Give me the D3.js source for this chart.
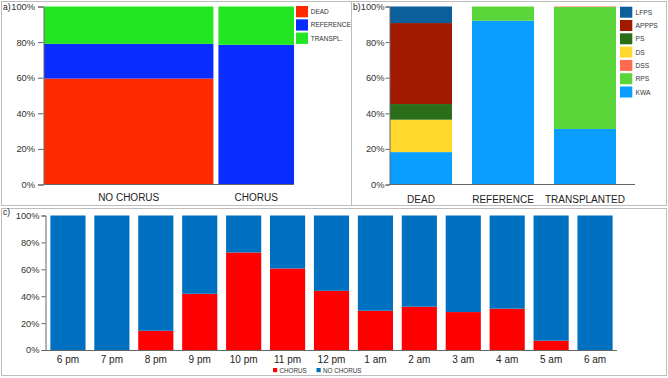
<!DOCTYPE html>
<html><head><meta charset="utf-8">
<script src="https://cdn.jsdelivr.net/npm/d3@7"></script>
<style>
html,body{margin:0;padding:0;background:#fff;}
svg{display:block;font-family:"Liberation Sans",Arial,Helvetica,sans-serif;}
</style></head>
<body>
<svg id="chart" width="668" height="378"></svg>
<script>
// ---------- DATA ----------
// Panel a
const aCategories = ["NO CHORUS", "CHORUS"];
const aWidthShare = [0.684, 0.316];
const aSeries = ["DEAD", "REFERENCE", "TRANSPL."];
const aDead = [59.5, 0];
const aReference = [19.5, 78.5];
const aTranspl = [21, 21.5];
const aColors = ["#ff2a00", "#0a2dff", "#21e621"];

// Panel b
const bCategories = ["DEAD", "REFERENCE", "TRANSPLANTED"];
const bSeries = ["KWA", "RPS", "DSS", "DS", "PS", "APPPS", "LFPS"];
const bKWA = [18.2, 92, 31.2];
const bRPS = [0, 8, 68.5];
const bDSS = [0, 0, 0.3];
const bDS = [18.2, 0, 0];
const bPS = [8.8, 0, 0];
const bAPPPS = [45.5, 0, 0];
const bLFPS = [9.3, 0, 0];
const bColors = ["#0a9fff", "#5ad63a", "#ff6a50", "#ffd92e", "#2a6e1a", "#a11a00", "#0b5f9a"];
const bLegendOrder = ["LFPS", "APPPS", "PS", "DS", "DSS", "RPS", "KWA"];

// Panel c
const cHours = ["6 pm", "7 pm", "8 pm", "9 pm", "10 pm", "11 pm", "12 pm", "1 am", "2 am", "3 am", "4 am", "5 am", "6 am"];
const cChorus = [0, 0, 14.3, 41.8, 72.5, 60.6, 44, 29.2, 32.2, 28.2, 30.7, 6.9, 0];
const cSeries = ["CHORUS", "NO CHORUS"];
const cColors = ["#ff0000", "#0070c0"];

const yTicks = [0, 20, 40, 60, 80, 100];

// ---------- DRAW ----------
const svg = d3.select("#chart");
const fmt = d => d + "%";

// panel frames
const frames = [[1.5, 1.5, 350, 204], [351.5, 1.5, 315, 204], [1.5, 208.5, 665, 167]];
svg.selectAll("rect.frame").data(frames).join("rect").attr("class", "frame")
  .attr("x", d => d[0]).attr("y", d => d[1]).attr("width", d => d[2]).attr("height", d => d[3])
  .attr("fill", "none").attr("stroke", "#bdbdbd").attr("stroke-width", 1);

function yAxis(g, y, x0, size, pad) {
  const ax = g.append("g").attr("transform", `translate(${x0},0)`)
    .call(d3.axisLeft(y).tickValues(yTicks).tickFormat(fmt).tickSize(size).tickPadding(pad));
  ax.select(".domain").attr("stroke", "#666");
  ax.selectAll(".tick line").attr("stroke", "#666");
  ax.selectAll("text").attr("font-size", 9.3).attr("fill", "#333").attr("font-family", "inherit");
}

function panelLabel(txt, x, y) {
  svg.append("text").attr("x", x).attr("y", y).attr("font-size", 8.5).attr("fill", "#222").text(txt);
}

// ---- Panel a ----
{
  const g = svg.append("g");
  const y = d3.scaleLinear().domain([0, 100]).range([184.5, 6.5]);
  const xs = d3.scaleLinear().domain([0, 1]).range([44, 299]);
  const gap = 5;
  const rows = aCategories.map((c, i) => ({cat: c, DEAD: aDead[i], REFERENCE: aReference[i], "TRANSPL.": aTranspl[i]}));
  const cum = [0];
  aWidthShare.forEach((s, i) => cum.push(cum[i] + s));
  const stack = d3.stack().keys(aSeries)(rows);
  stack.forEach((layer, li) => {
    g.selectAll(null).data(layer).join("rect")
      .attr("x", (d, i) => xs(cum[i]))
      .attr("width", (d, i) => xs(cum[i + 1]) - xs(cum[i]) - gap)
      .attr("y", d => y(d[1]))
      .attr("height", d => y(d[0]) - y(d[1]))
      .attr("fill", aColors[li]);
  });
  yAxis(g, y, 43.5, 5.5, 3);
  g.append("line").attr("x1", 43.5).attr("x2", xs(1) - gap).attr("y1", 184.5).attr("y2", 184.5).attr("stroke", "#666");
  g.selectAll("text.cat").data(aCategories).join("text").attr("class", "cat")
    .attr("x", (d, i) => (xs(cum[i]) + xs(cum[i + 1]) - gap) / 2)
    .attr("y", 201).attr("text-anchor", "middle").attr("font-size", 10).attr("fill", "#222").text(d => d);
  const lg = g.selectAll("g.lg").data(aSeries).join("g").attr("class", "lg")
    .attr("transform", (d, i) => `translate(296,${6 + i * 13.3})`);
  lg.append("rect").attr("width", 12).attr("height", 11.3).attr("fill", (d, i) => aColors[i]);
  lg.append("text").attr("x", 14.7).attr("y", 8).attr("font-size", 6.5).attr("fill", "#333").text(d => d);
  panelLabel("a)", 3, 10);
}

// ---- Panel b ----
{
  const g = svg.append("g");
  const y = d3.scaleLinear().domain([0, 100]).range([184.5, 6.5]);
  const x = d3.scaleBand().domain(bCategories).range([390, 616]).paddingInner(0.244).paddingOuter(0);
  const vals = {KWA: bKWA, RPS: bRPS, DSS: bDSS, DS: bDS, PS: bPS, APPPS: bAPPPS, LFPS: bLFPS};
  const rows = bCategories.map((c, i) => {
    const r = {cat: c};
    bSeries.forEach(s => r[s] = vals[s][i]);
    return r;
  });
  const stack = d3.stack().keys(bSeries)(rows);
  stack.forEach((layer, li) => {
    g.selectAll(null).data(layer).join("rect")
      .attr("x", d => x(d.data.cat)).attr("width", x.bandwidth())
      .attr("y", d => y(d[1])).attr("height", d => y(d[0]) - y(d[1]))
      .attr("fill", bColors[li]);
  });
  yAxis(g, y, 389.5, 4, 1);
  g.append("line").attr("x1", 389.5).attr("x2", 635).attr("y1", 184.5).attr("y2", 184.5).attr("stroke", "#666");
  g.selectAll("text.cat").data(bCategories).join("text").attr("class", "cat")
    .attr("x", d => x(d) + x.bandwidth() / 2).attr("y", 203)
    .attr("text-anchor", "middle").attr("font-size", 10).attr("fill", "#222").text(d => d);
  const lg = g.selectAll("g.lg").data(bLegendOrder).join("g").attr("class", "lg")
    .attr("transform", (d, i) => `translate(620,${6.7 + i * 13.3})`);
  lg.append("rect").attr("width", 12.3).attr("height", 11).attr("fill", d => bColors[bSeries.indexOf(d)]);
  lg.append("text").attr("x", 15.5).attr("y", 8).attr("font-size", 6.7).attr("fill", "#333").text(d => d);
  panelLabel("b)", 353, 10);
}

// ---- Panel c ----
{
  const g = svg.append("g");
  const y = d3.scaleLinear().domain([0, 100]).range([350, 215.5]);
  const x = d3.scaleBand().domain(cHours).range([46, 617]).paddingInner(0.2).paddingOuter(0.1);
  const rows = cHours.map((h, i) => ({h, CHORUS: cChorus[i], "NO CHORUS": 100 - cChorus[i]}));
  const stack = d3.stack().keys(cSeries)(rows);
  stack.forEach((layer, li) => {
    g.selectAll(null).data(layer).join("rect")
      .attr("x", d => x(d.data.h)).attr("width", x.bandwidth())
      .attr("y", d => y(d[1])).attr("height", d => y(d[0]) - y(d[1]))
      .attr("fill", cColors[li]);
  });
  yAxis(g, y, 45.5, 4, 2);
  g.append("line").attr("x1", 45.5).attr("x2", 617).attr("y1", 350.5).attr("y2", 350.5).attr("stroke", "#666");
  g.selectAll("text.cat").data(cHours).join("text").attr("class", "cat")
    .attr("x", d => x(d) + x.bandwidth() / 2).attr("y", 362.5)
    .attr("text-anchor", "middle").attr("font-size", 10).attr("fill", "#222").text(d => d);
  const lgX = [273, 316.5];
  const lg = g.selectAll("g.lg").data(cSeries).join("g").attr("class", "lg")
    .attr("transform", (d, i) => `translate(${lgX[i]},368)`);
  lg.append("rect").attr("width", 4.2).attr("height", 4.2).attr("fill", (d, i) => cColors[i]);
  lg.append("text").attr("x", 6.5).attr("y", 4.6).attr("font-size", 6.3).attr("fill", "#333").text(d => d);
  panelLabel("c)", 3, 215);
}
</script>
</body></html>
